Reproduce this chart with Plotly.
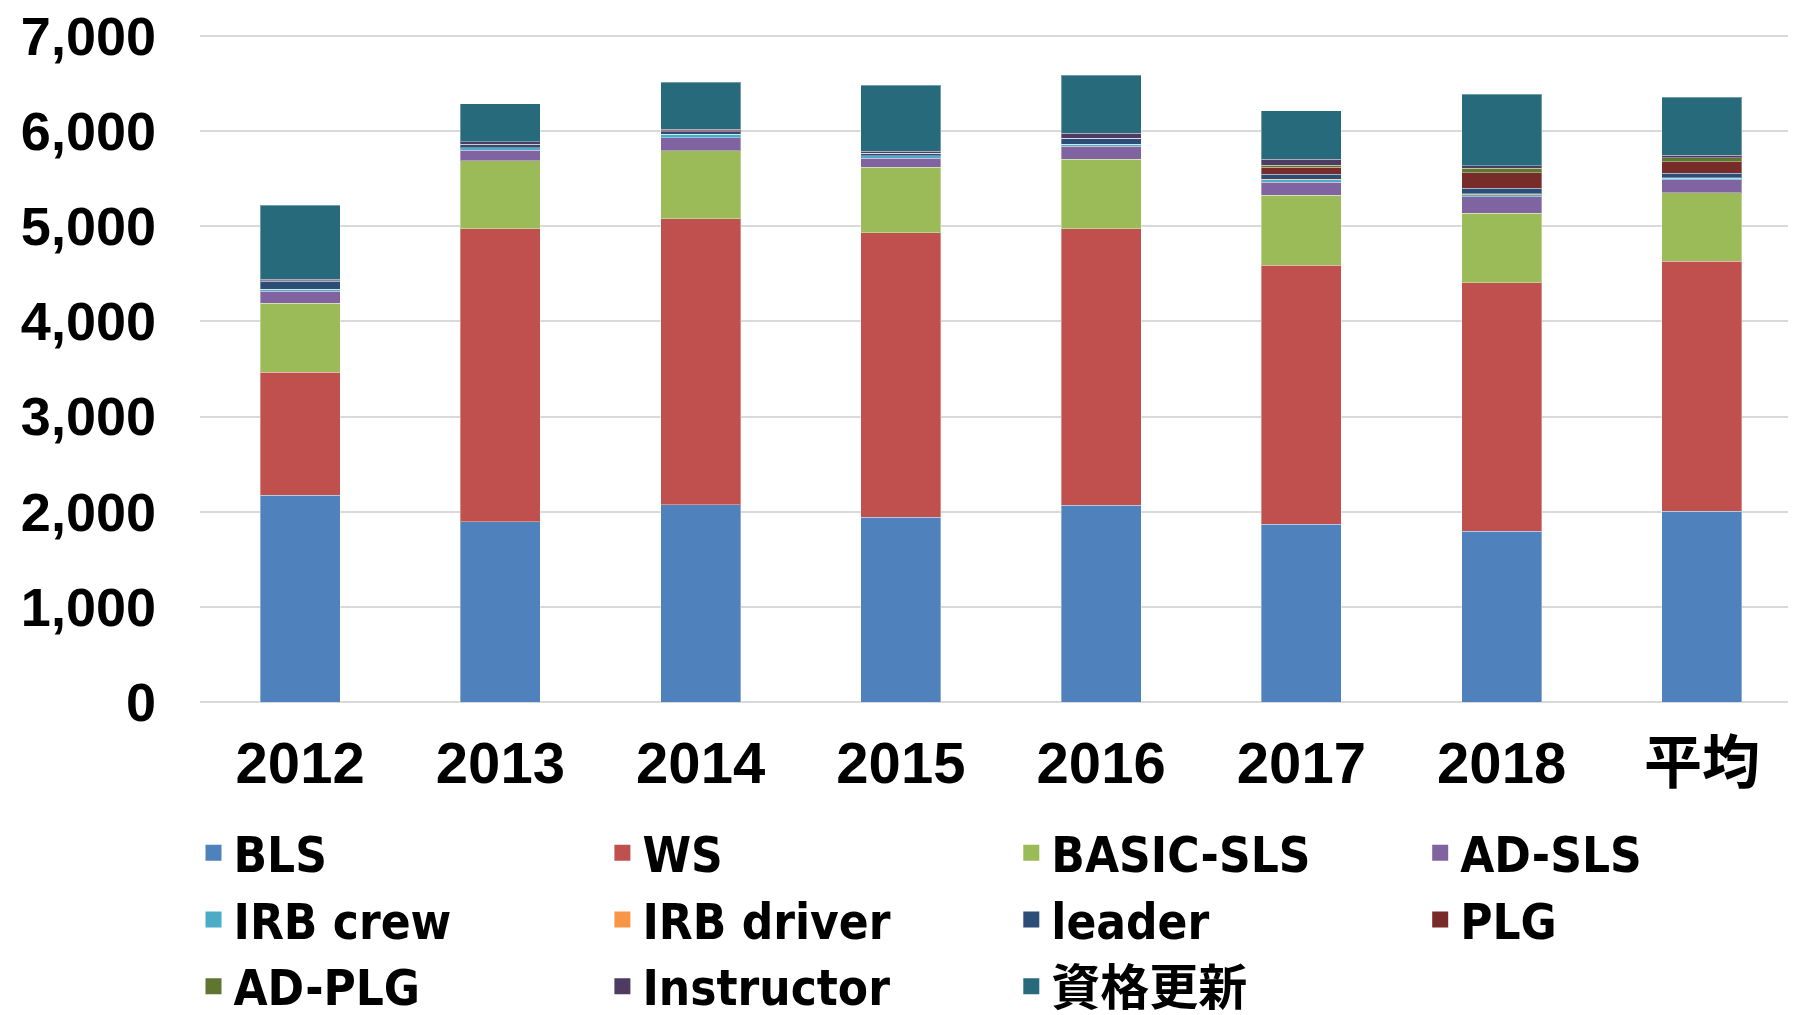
import plotly.graph_objects as go

categories = ["2012", "2013", "2014", "2015", "2016", "2017", "2018", "平均"]

series_names = ["BLS", "WS", "BASIC-SLS", "AD-SLS", "IRB crew", "IRB driver",
                "leader", "PLG", "AD-PLG", "Instructor", "資格更新"]

bls        = [2175, 1895, 2074, 1940, 2070, 1870, 1796, 2007]
ws         = [1291, 3081, 3003, 2990, 2902, 2719, 2611, 2625]
basic_sls  = [727, 711, 716, 688, 733, 737, 730, 719]
ad_sls     = [123, 110, 137, 98, 137, 137, 172, 137]
irb_crew   = [21, 28, 35, 24, 18, 25, 22, 17]
irb_driver = [0, 0, 0, 0, 0, 7, 9, 5]
leader     = [87, 31, 28, 28, 63, 49, 57, 49]
plg        = [3, 5, 8, 0, 0, 74, 164, 116]
ad_plg     = [0, 0, 0, 0, 0, 24, 46, 42]
instructor = [15, 25, 20, 18, 56, 63, 28, 28]
renewal    = [779, 400, 491, 698, 610, 509, 751, 611]

y_ticks = [0, 1000, 2000, 3000, 4000, 5000, 6000, 7000]

values = [bls, ws, basic_sls, ad_sls, irb_crew, irb_driver, leader, plg,
          ad_plg, instructor, renewal]
colors = ["#4F81BD", "#C0504D", "#9BBB59", "#8064A2", "#4BACC6", "#F79646",
          "#2C4D75", "#772C2A", "#5F7530", "#4D3B62", "#276A7C"]

# legend laid out in 4 columns (row-major order as in the reference)
legend_ids = ["legend", "legend2", "legend3", "legend4"]

fig = go.Figure()
for name, vals, col in zip(series_names, values, colors):
    fig.add_trace(go.Bar(
        x=categories, y=vals, name=name, showlegend=False,
        marker=dict(color=col, line=dict(color="rgba(255,255,255,0.35)", width=1)),
    ))
# legend proxies (larger square swatches)
for i, (name, col) in enumerate(zip(series_names, colors)):
    fig.add_trace(go.Scatter(
        x=[None], y=[None], mode="markers", name=name,
        legend=legend_ids[i % 4],
        marker=dict(symbol="square", size=22, color=col),
    ))

W, H = 1788, 1007  # page adds an 8px body margin
leg_font = dict(family="DejaVu Sans Condensed, Noto Sans CJK JP",
                size=49, color="black", weight="bold")
leg_x = [185.5, 594.4, 1003.3, 1412.2]
leg_common = dict(orientation="v", traceorder="normal",
                  xref="container", yref="container",
                  xanchor="left", yanchor="top", y=0.1992,
                  font=leg_font, bgcolor="rgba(0,0,0,0)", borderwidth=0)

layout_legends = {}
for lid, lx in zip(legend_ids, leg_x):
    layout_legends[lid] = dict(x=lx / W, **leg_common)

fig.update_layout(
    width=W, height=H,
    barmode="stack", bargap=0.6,
    plot_bgcolor="white", paper_bgcolor="white",
    margin=dict(l=192, r=0, t=26, b=313, autoexpand=False),
    font=dict(family="Liberation Sans, Noto Sans CJK JP", color="black"),
    showlegend=True,
    **layout_legends,
)
fig.update_xaxes(
    type="category", range=[-0.5, 7.47], automargin=False, tickangle=0,
    tickfont=dict(family="Liberation Sans, Noto Sans CJK JP", size=58, color="black", weight="bold"),
    showline=False, ticks="", ticklabelstandoff=22,
)
fig.update_yaxes(
    range=[0, 7020], tickvals=y_ticks, tickformat=",d", automargin=False,
    ticklabeloverflow="allow",
    tickfont=dict(family="Liberation Sans, Arial", size=54, color="black", weight="bold"),
    showgrid=True, gridcolor="#d9d9d9", gridwidth=2,
    zeroline=True, zerolinecolor="#d9d9d9", zerolinewidth=2,
    ticks="", ticklabelstandoff=43,
)

fig.write_html("out.html")
